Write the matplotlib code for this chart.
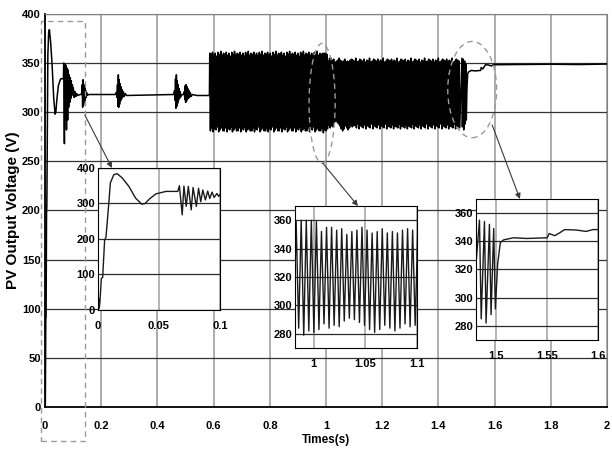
import matplotlib
matplotlib.use("Agg")
import matplotlib.pyplot as plt
from matplotlib.patches import Ellipse, Rectangle

# ---- data ------------------------------------------------------------------
# start-up transient, 0 - 0.1 s (left inset)
START_T = [0, 0.0006, 0.0011, 0.0016, 0.0028, 0.0039, 0.0055, 0.0066, 0.0088,
           0.0102, 0.0130, 0.0157, 0.0199, 0.0254, 0.0309, 0.0359, 0.0387,
           0.0420, 0.0475, 0.0558, 0.0655,
           0.0668, 0.0691, 0.0705, 0.0724, 0.0741, 0.0765, 0.0780, 0.0807,
           0.0825, 0.0843, 0.0860, 0.0881, 0.0900, 0.0917, 0.0936, 0.0953,
           0.0975, 0.0990, 0.1000]
START_V = [0, 32, 5, 20, 89, 92, 197, 205, 295,
           358, 381, 384, 372, 348, 315, 298, 300,
           312, 327, 334, 334,
           350, 268, 349, 292, 348, 282, 345, 292,
           343, 305, 338, 310, 335, 314, 332, 317,
           328, 320, 325]

# settling and disturbance bursts around 317 V, 0.1 - 0.585 s
SETTLE_T = [0.102, 0.104, 0.107, 0.110, 0.113, 0.117, 0.125,
            0.130, 0.1325, 0.134, 0.1355, 0.137, 0.1385, 0.140, 0.1415, 0.143,
            0.1445, 0.146, 0.148, 0.151, 0.155,
            0.250, 0.254, 0.256, 0.258, 0.2595, 0.261, 0.2625, 0.264, 0.2655,
            0.267, 0.2685, 0.270, 0.272, 0.274, 0.276, 0.279, 0.282, 0.286, 0.290,
            0.458, 0.461, 0.463, 0.4645, 0.466, 0.4675, 0.469, 0.4705, 0.472,
            0.4735, 0.475, 0.477, 0.479, 0.481, 0.484, 0.488,
            0.493, 0.496, 0.4975, 0.499, 0.5005, 0.502, 0.5035, 0.505, 0.5065,
            0.508, 0.510, 0.512, 0.514, 0.517, 0.520, 0.525, 0.540, 0.585]
SETTLE_V = [322, 315, 321, 316, 319, 317, 318,
            318, 328, 305, 333, 307, 328, 310, 325, 312,
            322, 315, 320, 317, 318,
            318, 320, 315, 328, 306, 338, 305, 333, 308,
            329, 311, 326, 313, 323, 315, 321, 316, 319, 317,
            318, 322, 312, 334, 304, 338, 306, 332, 309,
            328, 312, 324, 314, 321, 316, 318,
            318, 321, 313, 327, 310, 328, 311, 326, 313,
            324, 314, 322, 315, 320, 316, 318, 317, 317]

# MPPT oscillation, 0.585 - 1.48 s: period and per-cycle peak / trough
OSC_START, OSC_END, OSC_PERIOD = 0.585, 1.480, 0.0049
EARLY_PEAKS = [360, 359, 361, 358, 360, 357, 361, 359, 362, 358]
EARLY_TROUGHS = [281, 284, 280, 283, 282, 285, 280, 282, 284, 281]
ZOOM_START = 0.982
ZOOM_PEAKS = [360, 360, 360, 359, 352, 355, 355, 353, 354, 350, 352, 353,
              355, 353, 351, 352, 354, 351, 352, 351, 353, 354, 353, 352]
ZOOM_TROUGHS = [279, 282, 281, 283, 287, 284, 286, 285, 289, 291, 290, 288,
                286, 283, 281, 283, 286, 284, 282, 284, 287, 285, 286, 287]
# after the zoomed window the swing is a little narrower
LATE_PEAKS = [353, 352, 354, 351, 353, 352, 355, 351, 352, 354]
LATE_TROUGHS = [285, 284, 287, 283, 286, 285, 284, 288, 283, 286]

# last cycles and settling to the new operating point (right inset)
END_T = [1.4834, 1.4851, 1.4883, 1.4899, 1.4932, 1.4948, 1.4974, 1.4990,
         1.5013, 1.5039, 1.5071, 1.5169, 1.5300, 1.5500, 1.5520, 1.5575,
         1.5623, 1.5672, 1.5786, 1.5883, 1.5950, 1.6000, 1.70, 1.80, 1.90, 2.00]
END_V = [355, 285, 354, 282, 352, 288, 349, 292,
         324, 339, 341, 342.5, 342, 342.5, 345.5, 344,
         346, 348.3, 348, 347, 348.3, 348.3, 348.5, 348.8, 348.5, 349]

X_TICKS = [0, 0.2, 0.4, 0.6, 0.8, 1.0, 1.2, 1.4, 1.6, 1.8, 2.0]
X_LABELS = ["0", "0.2", "0.4", "0.6", "0.8", "1", "1.2", "1.4", "1.6", "1.8", "2"]
Y_TICKS = [0, 50, 100, 150, 200, 250, 300, 350, 400]

# ---- build the trace ---------------------------------------------------------
osc_t, osc_v = [], []
n_cycles = int((OSC_END - OSC_START) / OSC_PERIOD)
j = 0
for k in range(n_cycles):
    t0 = OSC_START + k * OSC_PERIOD
    if t0 < ZOOM_START:
        p = EARLY_PEAKS[k % len(EARLY_PEAKS)]
        q = EARLY_TROUGHS[k % len(EARLY_TROUGHS)]
    elif j < len(ZOOM_PEAKS):
        p, q = ZOOM_PEAKS[j], ZOOM_TROUGHS[j]
        j += 1
    else:
        p = LATE_PEAKS[k % len(LATE_PEAKS)]
        q = LATE_TROUGHS[k % len(LATE_TROUGHS)]
    osc_t += [t0 + 0.25 * OSC_PERIOD, t0 + 0.75 * OSC_PERIOD]
    osc_v += [p, q]

t = START_T + SETTLE_T + osc_t + END_T
v = START_V + SETTLE_V + osc_v + END_V

# ---- figure ------------------------------------------------------------------
plt.rcParams["font.family"] = ["Liberation Sans", "DejaVu Sans"]
plt.rcParams["font.weight"] = "bold"


def bold_ticks(a):
    for lab in a.get_xticklabels() + a.get_yticklabels():
        lab.set_fontweight("bold")


fig = plt.figure(figsize=(6.12, 4.49), dpi=100)
ax = fig.add_axes([0.0735, 0.0935, 0.9185, 0.8755])
ax.plot(t, v, color="black", lw=1.1, zorder=3)
ax.set_xlim(0, 2)
ax.set_ylim(0, 400)
ax.set_xticks(X_TICKS, X_LABELS)
ax.set_yticks(Y_TICKS)
ax.tick_params(length=0, labelsize=8)
ax.tick_params(axis="x", pad=10)
ax.tick_params(axis="y", pad=3)
bold_ticks(ax)
ax.grid(axis="y", color="#333333", lw=0.9)
ax.grid(axis="x", color="#a0a0a0", lw=1.2)
ax.set_axisbelow(True)
for s in ["left", "bottom"]:
    ax.spines[s].set_linewidth(1.3)
for s in ["top", "right"]:
    ax.spines[s].set_linewidth(0.8)
    ax.spines[s].set_color("#808080")
ax.set_xlabel("Times(s)", fontsize=8.5, fontweight="bold", labelpad=2)
ax.set_ylabel("PV Output Voltage (V)", fontsize=11, fontweight="bold")
ax.yaxis.set_label_coords(-0.045, 0.5)

# zoom markers on the main axes
mark = dict(fill=False, ls=(0, (4, 3)), lw=1.0, ec="#9a9a9a", clip_on=False, zorder=4)
ax.add_patch(Rectangle((-0.015, -35), 0.157, 428, **mark))
ax.add_patch(Ellipse((0.986, 309), 0.093, 122, **mark))
ax.add_patch(Ellipse((1.520, 323), 0.174, 98, **mark))

insets = [
    ([0.160, 0.3096, 0.1993, 0.3163], (0, 0.1), (0, 400),
     [0, 0.05, 0.1], ["0", "0.05", "0.1"], [0, 100, 200, 300, 400], (0.142, 297), 0.115),
    ([0.482, 0.2249, 0.1993, 0.3163], (0.982, 1.1), (270, 370),
     [1.0, 1.05, 1.1], ["1", "1.05", "1.1"], [280, 300, 320, 340, 360], (0.989, 248), 0.516),
    ([0.7778, 0.2428, 0.1993, 0.3140], (1.48, 1.6), (270, 370),
     [1.5, 1.55, 1.6], ["1.5", "1.55", "1.6"], [280, 300, 320, 340, 360], (1.591, 287), 0.36),
]
for rect, xl, yl, xt, xtl, yt, src, ax_frac in insets:
    ia = fig.add_axes(rect, zorder=5)
    ia.plot(t, v, color="#1a1a1a", lw=1.0)
    ia.set_xlim(*xl)
    ia.set_ylim(*yl)
    ia.set_xticks(xt, xtl)
    ia.set_yticks(yt)
    ia.tick_params(length=0, labelsize=8)
    ia.tick_params(axis="x", pad=8)
    ia.tick_params(axis="y", pad=2)
    bold_ticks(ia)
    ia.grid(axis="y", color="#2a2a2a", lw=0.9)
    ia.grid(axis="x", color="#a0a0a0", lw=1.1)
    ia.set_axisbelow(True)
    for s in ia.spines.values():
        s.set_linewidth(0.8)
    ax.annotate("", xy=(ax_frac, 1.0), xycoords=ia.transAxes,
                xytext=src, textcoords="data",
                arrowprops=dict(arrowstyle="-|>", color="#3a3a3a", lw=0.8,
                                mutation_scale=8, shrinkA=0, shrinkB=0),
                zorder=6, annotation_clip=False)

fig.savefig("out.png", dpi=100)
